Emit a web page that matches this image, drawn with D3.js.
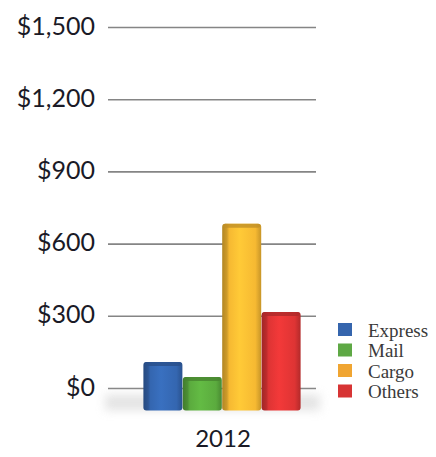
<!DOCTYPE html>
<html>
<head>
<meta charset="utf-8">
<script src="https://cdn.jsdelivr.net/npm/d3@7"></script>
<style>
  html, body { margin: 0; padding: 0; background: #fff; }
  svg { display: block; }
</style>
</head>
<body>
<svg id="chart" width="436" height="457"></svg>
<script>
// Revenue by business line, 2012
const categories = ["2012"];
const seriesNames = ["Express", "Mail", "Cargo", "Others"];
const seriesValues = [110, 48, 685, 318];
const yTicks = [0, 300, 600, 900, 1200, 1500];
const yTickLabels = ["$0", "$300", "$600", "$900", "$1,200", "$1,500"];
const seriesColors = ["#3466b0", "#5bab3e", "#f6b932", "#de3434"];
const legendColors = ["#3565ad", "#5ea845", "#f0a532", "#d73434"];

const svg = d3.select("#chart");
const defs = svg.append("defs");

// Scales: value axis on the back wall, bars stand on a floor slightly in front of it
const y = d3.scaleLinear().domain([0, 1500]).range([388.5, 27.5]);
const floorDrop = 22;
const gridX0 = 108, gridX1 = 316;

const x0 = d3.scaleBand().domain(categories).range([143, 301]).padding(0);
const x1 = d3.scaleBand().domain(seriesNames).range([0, x0.bandwidth()]).padding(0.01);

// Gradients for the shaded bar faces
seriesColors.forEach((c, i) => {
  const base = d3.color(c);
  const g = defs.append("linearGradient").attr("id", "bar" + i)
    .attr("x1", "0%").attr("x2", "100%").attr("y1", "0%").attr("y2", "0%");
  g.append("stop").attr("offset", "0%").attr("stop-color", base.darker(0.9));
  g.append("stop").attr("offset", "12%").attr("stop-color", base.darker(0.5));
  g.append("stop").attr("offset", "18%").attr("stop-color", base);
  g.append("stop").attr("offset", "45%").attr("stop-color", base.brighter(0.25));
  g.append("stop").attr("offset", "85%").attr("stop-color", base);
  g.append("stop").attr("offset", "100%").attr("stop-color", base.darker(0.6));
});

const blur = defs.append("filter").attr("id", "soft").attr("x", "-20%").attr("y", "-200%")
  .attr("width", "140%").attr("height", "500%");
blur.append("feGaussianBlur").attr("stdDeviation", 5);

const lineBlur = defs.append("filter").attr("id", "lineSoft").attr("x", "-5%").attr("y", "-300%")
  .attr("width", "110%").attr("height", "700%");
lineBlur.append("feGaussianBlur").attr("stdDeviation", 0.6);

// Gridlines
const grid = svg.append("g");
grid.selectAll("line.shadow").data(yTicks).join("line")
  .attr("x1", gridX0).attr("x2", gridX1)
  .attr("y1", d => y(d) + 1.5).attr("y2", d => y(d) + 1.5)
  .attr("stroke", "#d4d4d4").attr("stroke-width", 1.5)
  .attr("filter", "url(#lineSoft)");
grid.selectAll("line.main").data(yTicks).join("line")
  .attr("x1", gridX0).attr("x2", gridX1)
  .attr("y1", d => y(d)).attr("y2", d => y(d))
  .attr("stroke", "#858585").attr("stroke-width", 1.6);

// Value labels
svg.append("g").selectAll("text").data(yTicks).join("text")
  .attr("x", 95).attr("y", d => y(d) - 3)
  .attr("text-anchor", "end").attr("dominant-baseline", "central")
  .attr("font-family", "Lato, 'Open Sans', sans-serif").attr("font-size", 25)
  .attr("fill", "#1a1a26")
  .text((d, i) => yTickLabels[i]);

// Floor shadow under the bars
svg.append("rect")
  .attr("x", 105).attr("y", y(0) + 6).attr("width", 215).attr("height", 16)
  .attr("fill", "#cfcfcf").attr("opacity", 0.55).attr("filter", "url(#soft)");

// Bars
const floorY = y(0) + floorDrop;
const bars = svg.append("g").selectAll("g").data(seriesNames.map((s, i) => ({ s, v: seriesValues[i], i })))
  .join("g");

bars.append("rect")
  .attr("x", d => x0("2012") + x1(d.s))
  .attr("y", d => y(d.v))
  .attr("width", x1.bandwidth())
  .attr("height", d => floorY - y(d.v))
  .attr("rx", 3)
  .attr("fill", d => `url(#bar${d.i})`);

// Top rim of each column
bars.append("rect")
  .attr("x", d => x0("2012") + x1(d.s) + 1)
  .attr("y", d => y(d.v))
  .attr("width", x1.bandwidth() - 2)
  .attr("height", 4)
  .attr("rx", 2)
  .attr("fill", d => d3.color(seriesColors[d.i]).darker(0.7))
  .attr("opacity", 0.8);

// Category label
svg.append("text")
  .attr("x", x0("2012") + x0.bandwidth() / 2 + 1).attr("y", 437)
  .attr("text-anchor", "middle").attr("dominant-baseline", "central")
  .attr("font-family", "Lato, 'Open Sans', sans-serif").attr("font-size", 24)
  .attr("fill", "#1a1a26")
  .text(categories[0]);

// Legend
const legend = svg.append("g").selectAll("g").data(seriesNames).join("g")
  .attr("transform", (d, i) => `translate(338, ${323 + i * 20.5})`);
legend.append("rect")
  .attr("width", 14).attr("height", 13)
  .attr("fill", (d, i) => legendColors[i]);
legend.append("text")
  .attr("x", 30).attr("y", 7)
  .attr("dominant-baseline", "central")
  .attr("font-family", "'Liberation Serif', 'DejaVu Serif', serif").attr("font-size", 19)
  .attr("fill", "#3a3a3a")
  .text(d => d);
</script>
</body>
</html>
